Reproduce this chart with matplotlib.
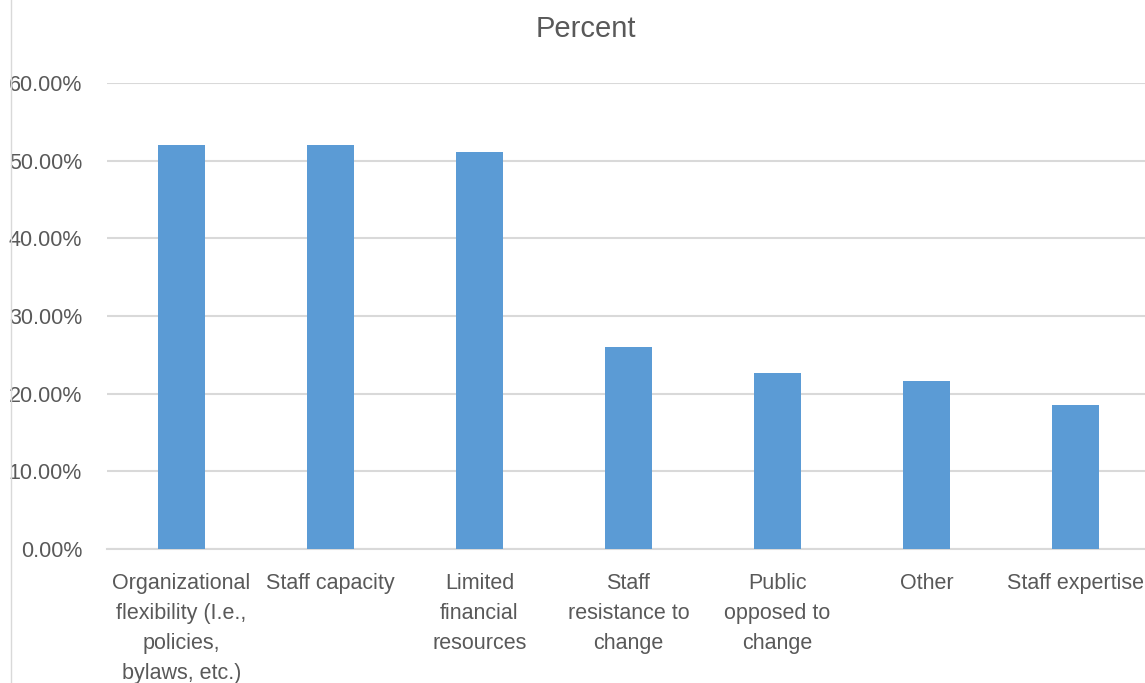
import matplotlib
matplotlib.use("Agg")
import matplotlib.pyplot as plt
from matplotlib.ticker import FuncFormatter
from matplotlib.lines import Line2D

categories = [
    "Organizational\nflexibility (I.e.,\npolicies,\nbylaws, etc.)",
    "Staff capacity",
    "Limited\nfinancial\nresources",
    "Staff\nresistance to\nchange",
    "Public\nopposed to\nchange",
    "Other",
    "Staff expertise",
]
values = [0.5205, 0.5205, 0.5110, 0.2603, 0.2260, 0.2158, 0.1849]
yticks = [0.0, 0.1, 0.2, 0.3, 0.4, 0.5, 0.6]
title = "Percent"

plt.rcParams['font.family'] = ['Liberation Sans', 'DejaVu Sans']
text_color = "#595959"

fig = plt.figure(figsize=(11.45, 6.83), dpi=100)
ax = fig.add_axes([107/1145, 1-549/683, (1150-107)/1145, (549-83)/683])

x = list(range(len(categories)))
ax.bar(x, values, width=0.32, color="#5B9BD5", zorder=3)
ax.set_xlim(-0.5, len(categories) - 0.5)
ax.set_ylim(0, 0.6)
ax.set_yticks(yticks)
ax.yaxis.set_major_formatter(FuncFormatter(lambda v, p: f"{v*100:.2f}%"))
ax.grid(axis='y', color="#D9D9D9", linewidth=1.5, zorder=0)
ax.set_xticks(x)
ax.set_xticklabels(categories, linespacing=1.58, va='top')
for s in ["top", "right", "left"]:
    ax.spines[s].set_visible(False)
ax.spines["bottom"].set_color("#D9D9D9")
ax.spines["bottom"].set_linewidth(1.5)
ax.tick_params(axis='both', length=0, colors=text_color, labelsize=15.5)
ax.tick_params(axis='x', pad=17)
ax.tick_params(axis='y', pad=18)

fig.text(586/1145, 1-29/683, title, ha='center', va='center', fontsize=21, color=text_color)
fig.add_artist(Line2D([11/1145, 11/1145], [0, 1], transform=fig.transFigure, color="#D9D9D9", linewidth=1))

fig.savefig("out.png", dpi=100)
